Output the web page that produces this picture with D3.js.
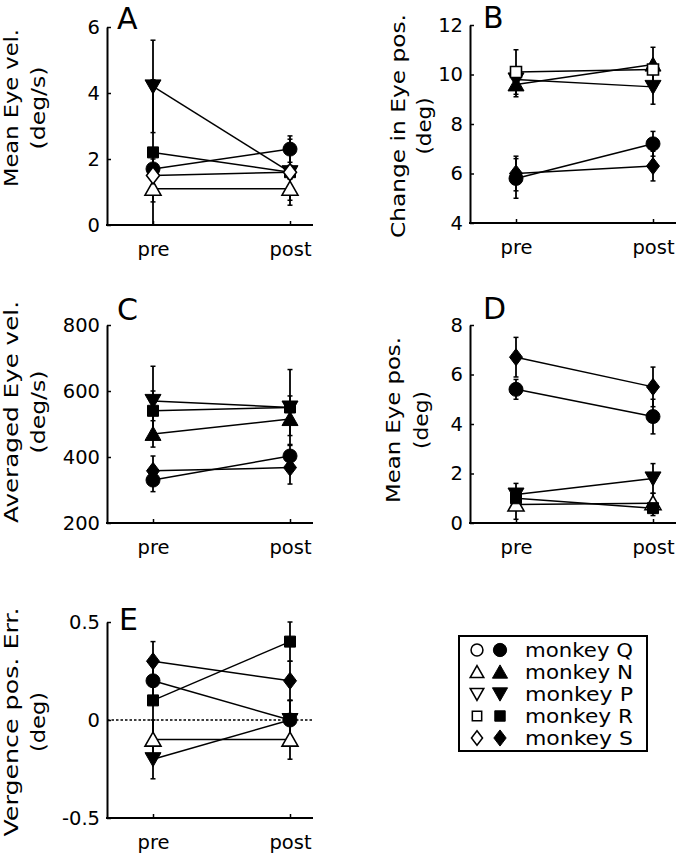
<!DOCTYPE html>
<html><head><meta charset="utf-8">
<script src="https://cdn.jsdelivr.net/npm/d3@7"></script>
<style>
html,body{margin:0;padding:0;background:#fff;}
svg{display:block;}
text{font-family:"DejaVu Sans",Verdana,sans-serif;fill:#000;}
</style></head>
<body>
<svg id="chart" width="676" height="853"></svg>
<script>
// ---------- DATA ----------
const monkeys = ["Q", "N", "P", "R", "S"];
const conditions = ["pre", "post"];

// Panel A: Mean Eye vel. (deg/s)
const A_pre      = [1.7, 1.1, 4.2, 2.2, 1.5];
const A_post     = [2.3, 1.1, 1.6, 1.6, 1.6];
const A_errPre   = [0.3, 0.4, 1.4, 2.2, 0.3];
const A_errPost  = [0.4, 0.35, 1.0, 0.2, 0.2];
const A_open     = ["N", "S"];
const A_ticks    = [0, 2, 4, 6];

// Panel B: Change in Eye pos. (deg)
const B_pre      = [5.8, 9.6, 9.8, 10.1, 6.0];
const B_post     = [7.2, 10.4, 9.5, 10.2, 6.3];
const B_errPre   = [0.8, 0.5, 0.3, 0.9, 0.7];
const B_errPost  = [0.5, 0.7, 0.7, 0.2, 0.6];
const B_open     = ["R"];
const B_ticks    = [4, 6, 8, 10, 12];

// Panel C: Averaged Eye vel. (deg/s)
const C_pre      = [330, 470, 570, 540, 358];
const C_post     = [403, 515, 550, 550, 368];
const C_errPre   = [35, 40, 105, 60, 45];
const C_errPost  = [35, 50, 115, 35, 50];
const C_open     = [];
const C_ticks    = [200, 400, 600, 800];

// Panel D: Mean Eye pos. (deg)
const D_pre      = [5.4, 0.75, 1.15, 1.0, 6.7];
const D_post     = [4.3, 0.8, 1.8, 0.6, 5.5];
const D_errPre   = [0.4, 0.6, 0.45, 0.3, 0.8];
const D_errPost  = [0.7, 0.4, 0.6, 0.3, 0.8];
const D_open     = ["N"];
const D_ticks    = [0, 2, 4, 6, 8];

// Panel E: Vergence pos. Err. (deg)
const E_pre      = [0.2, -0.1, -0.2, 0.1, 0.3];
const E_post     = [0.0, -0.1, 0.0, 0.4, 0.2];
const E_errPre   = [0.1, 0.1, 0.1, 0.2, 0.1];
const E_errPost  = [0.1, 0.1, 0.1, 0.1, 0.1];
const E_open     = ["N"];
const E_ticks    = [-0.5, 0, 0.5];
const E_tickLabels = ["-0.5", "0", "0.5"];

const legendLabels = ["monkey Q", "monkey N", "monkey P", "monkey R", "monkey S"];

// ---------- STYLE / LAYOUT ----------
const shapeOf = {Q: "circle", N: "triUp", P: "triDown", R: "square", S: "diamond"};
function shapePath(s) {
  switch (s) {
    case "circle": return "M7,0A7,7 0 1,1 -7,0A7,7 0 1,1 7,0Z";
    case "triUp": return "M0,-7.5L8,6.5L-8,6.5Z";
    case "triDown": return "M0,7.5L8,-6.5L-8,-6.5Z";
    case "square": return "M-5.5,-5.5H5.5V5.5H-5.5Z";
    case "diamond": return "M0,-8.5L6.5,0L0,8.5L-6.5,0Z";
  }
}

const svg = d3.select("#chart");

const panels = [
  {letter: "A", x0: 107, top: 27, bot: 225, domain: [0, 6], ticks: A_ticks, labels: null,
   pre: A_pre, post: A_post, ePre: A_errPre, ePost: A_errPost, open: A_open,
   yl1: "Mean Eye vel.", yl2: "(deg/s)", l1len: 158, l2len: 83, lcy: 108, lx1: 18, lx2: 45,
   letX: 117, letY: 29},
  {letter: "B", x0: 470, top: 25, bot: 223, domain: [4, 12], ticks: B_ticks, labels: null,
   pre: B_pre, post: B_post, ePre: B_errPre, ePost: B_errPost, open: B_open,
   yl1: "Change in Eye pos.", yl2: "(deg)", l1len: 224, l2len: 57, lcy: 126, lx1: 405, lx2: 431,
   letX: 483, letY: 28},
  {letter: "C", x0: 107, top: 325, bot: 523, domain: [200, 800], ticks: C_ticks, labels: null,
   pre: C_pre, post: C_post, ePre: C_errPre, ePost: C_errPost, open: C_open,
   yl1: "Averaged Eye vel.", yl2: "(deg/s)", l1len: 222, l2len: 83, lcy: 412, lx1: 18, lx2: 45,
   letX: 117, letY: 320},
  {letter: "D", x0: 470, top: 325, bot: 523, domain: [0, 8], ticks: D_ticks, labels: null,
   pre: D_pre, post: D_post, ePre: D_errPre, ePost: D_errPost, open: D_open,
   yl1: "Mean Eye pos.", yl2: "(deg)", l1len: 166, l2len: 58, lcy: 420, lx1: 400, lx2: 428,
   letX: 483, letY: 319},
  {letter: "E", x0: 107, top: 622, bot: 818, domain: [-0.5, 0.5], ticks: E_ticks, labels: E_tickLabels,
   pre: E_pre, post: E_post, ePre: E_errPre, ePost: E_errPost, open: E_open,
   yl1: "Vergence pos. Err.", yl2: "(deg)", l1len: 229, l2len: 60, lcy: 722, lx1: 18, lx2: 45,
   letX: 119, letY: 630, zeroLine: true}
];

panels.forEach(p => {
  const g = svg.append("g");
  const y = d3.scaleLinear().domain(p.domain).range([p.bot, p.top]);
  const x = d3.scalePoint().domain(conditions).range([p.x0 + 46, p.x0 + 183]);

  // y axis
  const yAxis = d3.axisLeft(y).tickValues(p.ticks).tickSizeInner(-4).tickSizeOuter(0).tickPadding(7)
    .tickFormat((d, i) => p.labels ? p.labels[i] : d3.format("d")(d));
  const ya = g.append("g").attr("transform", `translate(${p.x0},0)`).call(yAxis);
  ya.select(".domain").attr("stroke-width", 2);
  ya.selectAll(".tick line").attr("stroke-width", 1.5);
  ya.selectAll("text").style("font-size", "19.5px").attr("font-family", null);

  // x axis
  const xAxis = d3.axisBottom(x).tickSizeInner(-4).tickSizeOuter(0).tickPadding(17);
  const xa = g.append("g").attr("transform", `translate(0,${p.bot})`).call(xAxis);
  xa.select(".domain").remove();
  xa.selectAll(".tick line").attr("stroke-width", 1.5);
  xa.selectAll("text").style("font-size", "19.5px").attr("font-family", null);
  g.append("line").attr("x1", p.x0 - 1).attr("x2", p.x0 + 206)
    .attr("y1", p.bot).attr("y2", p.bot).attr("stroke", "#000").attr("stroke-width", 2);

  // zero line
  if (p.zeroLine) {
    g.append("line").attr("x1", p.x0).attr("x2", p.x0 + 207)
      .attr("y1", y(0)).attr("y2", y(0)).attr("stroke", "#000")
      .attr("stroke-width", 1.5).attr("stroke-dasharray", "2.5,2");
  }

  // connecting lines
  monkeys.forEach((m, i) => {
    g.append("line").attr("x1", x("pre")).attr("y1", y(p.pre[i]))
      .attr("x2", x("post")).attr("y2", y(p.post[i]))
      .attr("stroke", "#000").attr("stroke-width", 1.5);
  });

  // error bars
  const lo = p.domain[0];
  monkeys.forEach((m, i) => {
    [["pre", p.pre[i], p.ePre[i]], ["post", p.post[i], p.ePost[i]]].forEach(([c, v, e]) => {
      const cx = x(c);
      const y1 = y(v + e), y2 = y(Math.max(lo, v - e));
      g.append("line").attr("x1", cx).attr("x2", cx).attr("y1", y1).attr("y2", y2)
        .attr("stroke", "#000").attr("stroke-width", 1.8);
      [v + e, v - e].forEach(t => {
        if (t > lo) g.append("line").attr("x1", cx - 2.5).attr("x2", cx + 2.5)
          .attr("y1", y(t)).attr("y2", y(t)).attr("stroke", "#000").attr("stroke-width", 1.5);
      });
    });
  });

  // markers
  monkeys.forEach((m, i) => {
    const isOpen = p.open.includes(m);
    [["pre", p.pre[i]], ["post", p.post[i]]].forEach(([c, v]) => {
      g.append("path").attr("d", shapePath(shapeOf[m]))
        .attr("transform", `translate(${x(c)},${y(v)})`)
        .attr("fill", isOpen ? "#fff" : "#000")
        .attr("stroke", "#000").attr("stroke-width", isOpen ? 1.6 : 1);
    });
  });

  // panel letter
  g.append("text").attr("x", p.letX).attr("y", p.letY).text(p.letter)
    .style("font-size", "30px");

  // y labels
  g.append("text").attr("transform", `translate(${p.lx1},${p.lcy}) rotate(-90)`)
    .attr("text-anchor", "middle").style("font-size", "20px")
    .attr("textLength", p.l1len).attr("lengthAdjust", "spacingAndGlyphs").text(p.yl1);
  g.append("text").attr("transform", `translate(${p.lx2},${p.lcy}) rotate(-90)`)
    .attr("text-anchor", "middle").style("font-size", "20px")
    .attr("textLength", p.l2len).attr("lengthAdjust", "spacingAndGlyphs").text(p.yl2);
});

// ---------- LEGEND ----------
const lg = svg.append("g");
lg.append("rect").attr("x", 459).attr("y", 636).attr("width", 188).attr("height", 115)
  .attr("fill", "#fff").attr("stroke", "#000").attr("stroke-width", 2);
monkeys.forEach((m, i) => {
  const cy = 650 + i * 22;
  lg.append("path").attr("d", shapePath(shapeOf[m])).attr("transform", `translate(477,${cy}) scale(0.85)`)
    .attr("fill", "#fff").attr("stroke", "#000").attr("stroke-width", 1.8);
  lg.append("path").attr("d", shapePath(shapeOf[m])).attr("transform", `translate(500,${cy}) scale(0.95)`)
    .attr("fill", "#000").attr("stroke", "#000").attr("stroke-width", 1);
  lg.append("text").attr("x", 525).attr("y", cy + 7).style("font-size", "20px")
    .attr("textLength", 108).attr("lengthAdjust", "spacingAndGlyphs").text(legendLabels[i]);
});
</script>
</body></html>
